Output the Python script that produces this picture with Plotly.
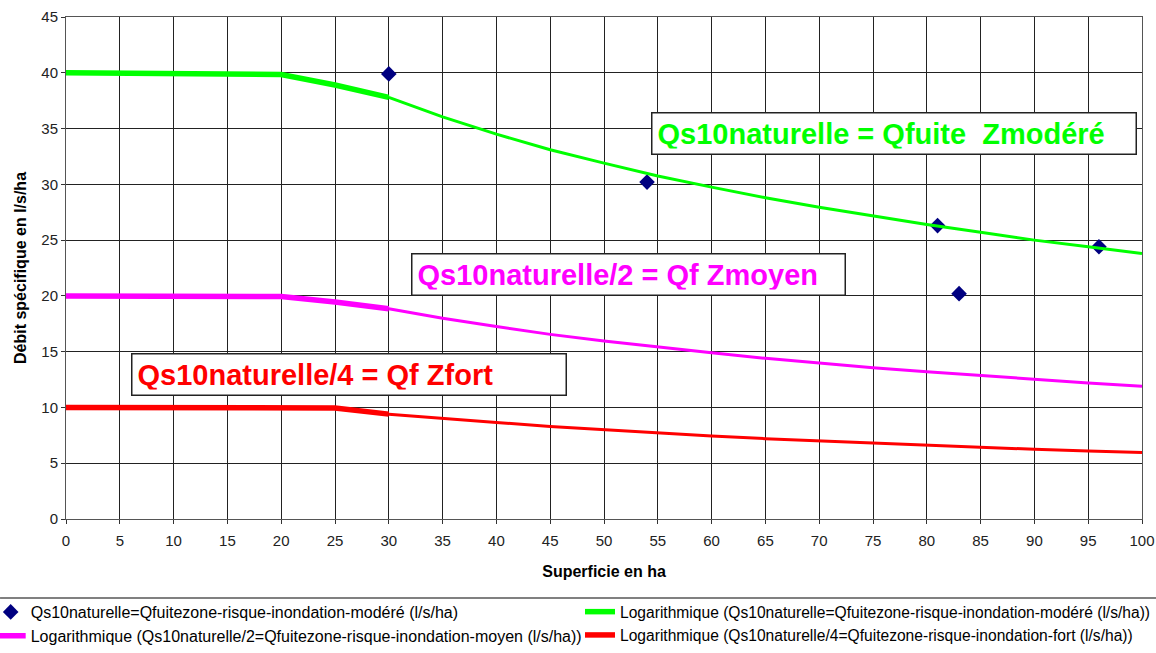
import plotly.graph_objects as go

# Valeurs
superficie = [0, 5, 10, 15, 20, 25, 30, 35, 40, 45, 50,
              55, 60, 65, 70, 75, 80, 85, 90, 95, 100]
q_modere = [40.0, 39.95, 39.9, 39.9, 39.85, 38.9, 37.8, 36.05, 34.5, 33.1, 31.9,
            30.75, 29.75, 28.8, 27.95, 27.15, 26.4, 25.7, 25.0, 24.4, 23.8]
q_moyen = [20.0, 20.0, 19.95, 19.95, 19.95, 19.45, 18.85, 18.0, 17.25, 16.55, 15.95,
           15.4, 14.9, 14.4, 13.95, 13.55, 13.2, 12.85, 12.5, 12.2, 11.9]
q_fort = [10.0, 10.0, 10.0, 10.0, 9.95, 9.95, 9.4, 9.0, 8.65, 8.3, 8.0,
          7.7, 7.45, 7.2, 7.0, 6.8, 6.6, 6.4, 6.25, 6.1, 5.95]

pts_superficie = [30, 54, 81, 83, 96]
pts_debit = [39.9, 30.2, 26.3, 20.2, 24.4]

noms = [
    "Logarithmique (Qs10naturelle=Qfuitezone-risque-inondation-modéré (l/s/ha))",
    "Logarithmique (Qs10naturelle/2=Qfuitezone-risque-inondation-moyen (l/s/ha))",
    "Logarithmique (Qs10naturelle/4=Qfuitezone-risque-inondation-fort (l/s/ha))",
]
couleurs = ["#00FF00", "#FF00FF", "#FF0000"]
# colonne de la légende pour chaque courbe (2 colonnes comme dans Excel)
colonnes = ["legend2", "legend", "legend2"]

FONT = "Liberation Sans, Arial, sans-serif"

fig = go.Figure()

fig.add_trace(go.Scatter(x=pts_superficie, y=pts_debit, mode="markers",
                         name="Qs10naturelle=Qfuitezone-risque-inondation-modéré (l/s/ha)",
                         legend="legend",
                         marker=dict(symbol="diamond", size=12, color="#000080")))

# partie plate plus épaisse, puis la courbe
cut = 6
for serie, nom, coul, leg in zip([q_modere, q_moyen, q_fort], noms, couleurs, colonnes):
    fig.add_trace(go.Scatter(x=superficie[:cut + 1], y=serie[:cut + 1], mode="lines",
                             name=nom, legendgroup=nom, legend=leg,
                             line=dict(color=coul, width=5.5)))
    fig.add_trace(go.Scatter(x=superficie[cut:], y=serie[cut:], mode="lines",
                             name=nom, legendgroup=nom, legend=leg, showlegend=False,
                             line=dict(color=coul, width=3)))

# cadres de texte
boites = [
    ("Qs10naturelle = Qfuite\u00a0\u00a0Zmodéré", couleurs[0], 54.4, 34.55, 473),
    ("Qs10naturelle/2 = Qf Zmoyen", couleurs[1], 32.1, 21.95, 422),
    ("Qs10naturelle/4 = Qf Zfort", couleurs[2], 6.0, 12.93, 423),
]
for txt, coul, bx, by, w in boites:
    fig.add_annotation(x=bx, y=by, xref="x", yref="y", text="<b>" + txt + "</b>",
                       showarrow=False, xanchor="left", yanchor="middle",
                       align="left", width=w, height=30, borderpad=5,
                       bordercolor="#222222", borderwidth=1.5, bgcolor="white",
                       font=dict(family=FONT, size=29, color=coul))

# trait de séparation au-dessus de la légende
fig.add_shape(type="line", xref="paper", yref="paper",
              x0=-0.0613, x1=1.013, y0=-0.1574, y1=-0.1574,
              line=dict(color="#808080", width=2))

axe = dict(showgrid=True, gridcolor="#222222", gridwidth=1,
           showline=True, linecolor="#555555", linewidth=1, mirror=True,
           ticks="outside", ticklen=4, tickcolor="#333333", zeroline=False,
           automargin=False,
           tickfont=dict(family=FONT, size=15, color="#222222"))

fig.update_xaxes(axe, range=[0, 100], dtick=5, ticklabelstandoff=4,
                 title=dict(text="<b>Superficie en ha</b>", standoff=17,
                            font=dict(family=FONT, size=16, color="black")))
fig.update_yaxes(axe, range=[0, 45], dtick=5,
                 title=dict(text="<b>Débit spécifique en l/s/ha</b>", standoff=10,
                            font=dict(family=FONT, size=16, color="black")))

leg_style = dict(orientation="v", xref="paper", yref="container",
                 yanchor="top", xanchor="left", y=0.0888,
                 bgcolor="rgba(0,0,0,0)", tracegroupgap=0)

# figure 10 px plus large, décalée de 10 px à gauche dans la page,
# pour que la légende de gauche commence au bord comme dans l'original
fig.update_layout(
    width=1166, height=653, autosize=False,
    margin=dict(l=76, r=14, t=17, b=134),
    plot_bgcolor="white", paper_bgcolor="white",
    font=dict(family=FONT, color="black"),
    legend=dict(leg_style, x=-0.07,
                font=dict(family=FONT, size=16, color="black")),
    legend2=dict(leg_style, x=0.4935,
                 font=dict(family=FONT, size=15.6, color="black")),
)

fig.write_html("out.html", config={"displayModeBar": False},
               post_script="document.body.style.margin='0 0 0 -10px';")
